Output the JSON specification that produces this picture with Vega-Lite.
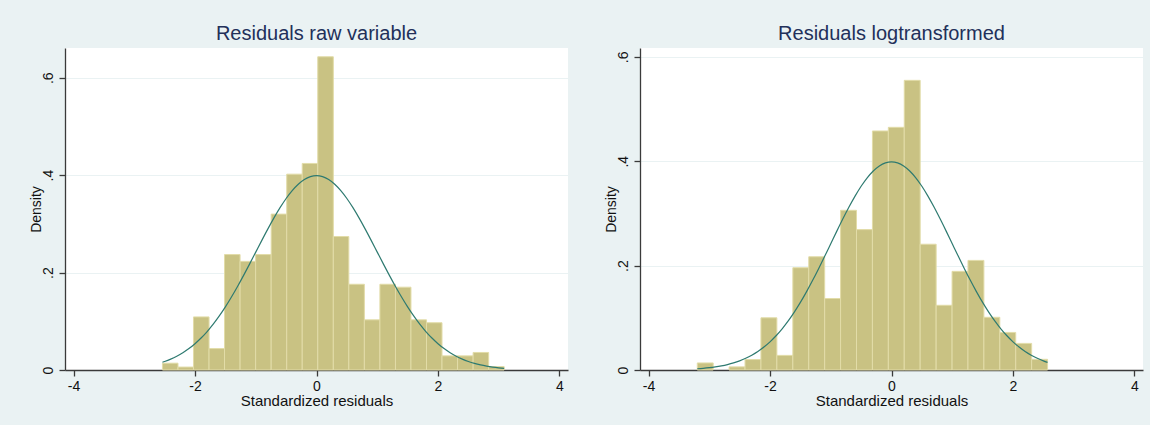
{
  "$schema": "https://vega.github.io/schema/vega-lite/v6.json",
  "background": "#EAF2F3",
  "padding": {"left": 28, "top": 24, "right": 7, "bottom": 22},
  "spacing": 36,
  "config": {
    "font": "Liberation Sans",
    "view": {"fill": "white", "stroke": null},
    "axis": {
      "domainColor": "#3a3a3a", "domainWidth": 1.3,
      "tickColor": "#3a3a3a", "tickWidth": 1.3, "tickSize": 6,
      "labelFont": "Liberation Sans", "labelFontSize": 14, "labelColor": "#111111",
      "titleFont": "Liberation Sans", "titleFontWeight": "normal", "titleColor": "#111111"
    },
    "title": {"font": "Liberation Sans", "fontSize": 20, "fontWeight": "normal", "color": "#22305a", "anchor": "middle", "frame": "group", "offset": 4}
  },
  "datasets": {
    "raw_bars": [
      {"start": -2.536, "end": -2.280, "density": 0.014},
      {"start": -2.280, "end": -2.025, "density": 0.006},
      {"start": -2.025, "end": -1.769, "density": 0.109},
      {"start": -1.769, "end": -1.514, "density": 0.044},
      {"start": -1.514, "end": -1.258, "density": 0.237},
      {"start": -1.258, "end": -1.002, "density": 0.223},
      {"start": -1.002, "end": -0.746, "density": 0.237},
      {"start": -0.746, "end": -0.490, "density": 0.320},
      {"start": -0.490, "end": -0.235, "density": 0.402},
      {"start": -0.235, "end": 0.021, "density": 0.424},
      {"start": 0.021, "end": 0.277, "density": 0.643},
      {"start": 0.277, "end": 0.532, "density": 0.274},
      {"start": 0.532, "end": 0.788, "density": 0.176},
      {"start": 0.788, "end": 1.044, "density": 0.103},
      {"start": 1.044, "end": 1.300, "density": 0.176},
      {"start": 1.300, "end": 1.555, "density": 0.170},
      {"start": 1.555, "end": 1.811, "density": 0.103},
      {"start": 1.811, "end": 2.066, "density": 0.097},
      {"start": 2.066, "end": 2.322, "density": 0.029},
      {"start": 2.322, "end": 2.578, "density": 0.029},
      {"start": 2.578, "end": 2.834, "density": 0.036},
      {"start": 2.834, "end": 3.089, "density": 0.007}
    ],
    "log_bars": [
      {"start": -3.197, "end": -2.935, "density": 0.0135},
      {"start": -2.673, "end": -2.411, "density": 0.006},
      {"start": -2.411, "end": -2.149, "density": 0.020},
      {"start": -2.149, "end": -1.887, "density": 0.100},
      {"start": -1.887, "end": -1.624, "density": 0.028},
      {"start": -1.624, "end": -1.362, "density": 0.196},
      {"start": -1.362, "end": -1.100, "density": 0.217},
      {"start": -1.100, "end": -0.838, "density": 0.137},
      {"start": -0.838, "end": -0.576, "density": 0.306},
      {"start": -0.576, "end": -0.314, "density": 0.269},
      {"start": -0.314, "end": -0.052, "density": 0.458},
      {"start": -0.052, "end": 0.210, "density": 0.465},
      {"start": 0.210, "end": 0.472, "density": 0.555},
      {"start": 0.472, "end": 0.735, "density": 0.241},
      {"start": 0.735, "end": 0.997, "density": 0.124},
      {"start": 0.997, "end": 1.259, "density": 0.189},
      {"start": 1.259, "end": 1.521, "density": 0.210},
      {"start": 1.521, "end": 1.783, "density": 0.101},
      {"start": 1.783, "end": 2.045, "density": 0.072},
      {"start": 2.045, "end": 2.307, "density": 0.051},
      {"start": 2.307, "end": 2.569, "density": 0.0205}
    ],
    "raw_curve": [
      {"x": -2.536, "density": 0.01601}, {"x": -2.5, "density": 0.01753}, {"x": -2.4, "density": 0.02239},
      {"x": -2.3, "density": 0.02833}, {"x": -2.2, "density": 0.03547}, {"x": -2.1, "density": 0.04398},
      {"x": -2.0, "density": 0.05399}, {"x": -1.9, "density": 0.06562}, {"x": -1.8, "density": 0.07895},
      {"x": -1.7, "density": 0.09405}, {"x": -1.6, "density": 0.11092}, {"x": -1.5, "density": 0.12952},
      {"x": -1.4, "density": 0.14973}, {"x": -1.3, "density": 0.17137}, {"x": -1.2, "density": 0.19419},
      {"x": -1.1, "density": 0.21785}, {"x": -1.0, "density": 0.24197}, {"x": -0.9, "density": 0.26609},
      {"x": -0.8, "density": 0.28969}, {"x": -0.7, "density": 0.31225}, {"x": -0.6, "density": 0.33322},
      {"x": -0.5, "density": 0.35207}, {"x": -0.4, "density": 0.36827}, {"x": -0.3, "density": 0.38139},
      {"x": -0.2, "density": 0.39104}, {"x": -0.1, "density": 0.39695}, {"x": 0.0, "density": 0.39894},
      {"x": 0.1, "density": 0.39695}, {"x": 0.2, "density": 0.39104}, {"x": 0.3, "density": 0.38139},
      {"x": 0.4, "density": 0.36827}, {"x": 0.5, "density": 0.35207}, {"x": 0.6, "density": 0.33322},
      {"x": 0.7, "density": 0.31225}, {"x": 0.8, "density": 0.28969}, {"x": 0.9, "density": 0.26609},
      {"x": 1.0, "density": 0.24197}, {"x": 1.1, "density": 0.21785}, {"x": 1.2, "density": 0.19419},
      {"x": 1.3, "density": 0.17137}, {"x": 1.4, "density": 0.14973}, {"x": 1.5, "density": 0.12952},
      {"x": 1.6, "density": 0.11092}, {"x": 1.7, "density": 0.09405}, {"x": 1.8, "density": 0.07895},
      {"x": 1.9, "density": 0.06562}, {"x": 2.0, "density": 0.05399}, {"x": 2.1, "density": 0.04398},
      {"x": 2.2, "density": 0.03547}, {"x": 2.3, "density": 0.02833}, {"x": 2.4, "density": 0.02239},
      {"x": 2.5, "density": 0.01753}, {"x": 2.6, "density": 0.01358}, {"x": 2.7, "density": 0.01042},
      {"x": 2.8, "density": 0.00792}, {"x": 2.9, "density": 0.00595}, {"x": 3.0, "density": 0.00443},
      {"x": 3.089, "density": 0.00338}
    ],
    "log_curve": [
      {"x": -3.197, "density": 0.00241}, {"x": -3.1, "density": 0.00327}, {"x": -3.0, "density": 0.00443},
      {"x": -2.9, "density": 0.00595}, {"x": -2.8, "density": 0.00792}, {"x": -2.7, "density": 0.01042},
      {"x": -2.6, "density": 0.01358}, {"x": -2.5, "density": 0.01753}, {"x": -2.4, "density": 0.02239},
      {"x": -2.3, "density": 0.02833}, {"x": -2.2, "density": 0.03547}, {"x": -2.1, "density": 0.04398},
      {"x": -2.0, "density": 0.05399}, {"x": -1.9, "density": 0.06562}, {"x": -1.8, "density": 0.07895},
      {"x": -1.7, "density": 0.09405}, {"x": -1.6, "density": 0.11092}, {"x": -1.5, "density": 0.12952},
      {"x": -1.4, "density": 0.14973}, {"x": -1.3, "density": 0.17137}, {"x": -1.2, "density": 0.19419},
      {"x": -1.1, "density": 0.21785}, {"x": -1.0, "density": 0.24197}, {"x": -0.9, "density": 0.26609},
      {"x": -0.8, "density": 0.28969}, {"x": -0.7, "density": 0.31225}, {"x": -0.6, "density": 0.33322},
      {"x": -0.5, "density": 0.35207}, {"x": -0.4, "density": 0.36827}, {"x": -0.3, "density": 0.38139},
      {"x": -0.2, "density": 0.39104}, {"x": -0.1, "density": 0.39695}, {"x": 0.0, "density": 0.39894},
      {"x": 0.1, "density": 0.39695}, {"x": 0.2, "density": 0.39104}, {"x": 0.3, "density": 0.38139},
      {"x": 0.4, "density": 0.36827}, {"x": 0.5, "density": 0.35207}, {"x": 0.6, "density": 0.33322},
      {"x": 0.7, "density": 0.31225}, {"x": 0.8, "density": 0.28969}, {"x": 0.9, "density": 0.26609},
      {"x": 1.0, "density": 0.24197}, {"x": 1.1, "density": 0.21785}, {"x": 1.2, "density": 0.19419},
      {"x": 1.3, "density": 0.17137}, {"x": 1.4, "density": 0.14973}, {"x": 1.5, "density": 0.12952},
      {"x": 1.6, "density": 0.11092}, {"x": 1.7, "density": 0.09405}, {"x": 1.8, "density": 0.07895},
      {"x": 1.9, "density": 0.06562}, {"x": 2.0, "density": 0.05399}, {"x": 2.1, "density": 0.04398},
      {"x": 2.2, "density": 0.03547}, {"x": 2.3, "density": 0.02833}, {"x": 2.4, "density": 0.02239},
      {"x": 2.5, "density": 0.01753}, {"x": 2.569, "density": 0.01471}
    ]
  },
  "hconcat": [
    {
      "title": "Residuals raw variable",
      "width": 503,
      "height": 322,
      "layer": [
        {
          "data": {"name": "raw_bars"},
          "mark": {"type": "rect", "fill": "#C9C283", "stroke": "#E2DCA8", "strokeWidth": 1},
          "encoding": {
            "x": {"field": "start", "type": "quantitative",
                  "scale": {"domain": [-4.14, 4.14], "nice": false, "zero": false},
                  "axis": {"values": [-4, -2, 0, 2, 4], "labelExpr": "'' + datum.value", "title": "Standardized residuals", "titleFontSize": 15, "grid": false, "labelPadding": 3, "titlePadding": 0, "labelFlush": false}},
            "x2": {"field": "end"},
            "y": {"field": "density", "type": "quantitative",
                  "scale": {"domain": [0, 0.661], "nice": false},
                  "axis": {"values": [0, 0.2, 0.4, 0.6], "labelExpr": "datum.value === 0 ? '0' : '.' + round(datum.value * 10)", "labelAngle": -90, "title": "Density", "titleFontSize": 14, "grid": true, "gridColor": "#EAF2F3", "gridWidth": 1, "labelPadding": 4, "titlePadding": -2}},
            "y2": {"datum": 0}
          }
        },
        {
          "data": {"name": "raw_curve"},
          "mark": {"type": "line", "color": "#2e7a70", "strokeWidth": 1.2, "interpolate": "monotone"},
          "encoding": {
            "x": {"field": "x", "type": "quantitative"},
            "y": {"field": "density", "type": "quantitative"}
          }
        }
      ]
    },
    {
      "title": "Residuals logtransformed",
      "width": 503,
      "height": 322,
      "layer": [
        {
          "data": {"name": "log_bars"},
          "mark": {"type": "rect", "fill": "#C9C283", "stroke": "#E2DCA8", "strokeWidth": 1},
          "encoding": {
            "x": {"field": "start", "type": "quantitative",
                  "scale": {"domain": [-4.14, 4.14], "nice": false, "zero": false},
                  "axis": {"values": [-4, -2, 0, 2, 4], "labelExpr": "'' + datum.value", "title": "Standardized residuals", "titleFontSize": 15, "grid": false, "labelPadding": 3, "titlePadding": 0, "labelFlush": false}},
            "x2": {"field": "end"},
            "y": {"field": "density", "type": "quantitative",
                  "scale": {"domain": [0, 0.617], "nice": false},
                  "axis": {"values": [0, 0.2, 0.4, 0.6], "labelExpr": "datum.value === 0 ? '0' : '.' + round(datum.value * 10)", "labelAngle": -90, "title": "Density", "titleFontSize": 14, "grid": true, "gridColor": "#EAF2F3", "gridWidth": 1, "labelPadding": 4, "titlePadding": -2}},
            "y2": {"datum": 0}
          }
        },
        {
          "data": {"name": "log_curve"},
          "mark": {"type": "line", "color": "#2e7a70", "strokeWidth": 1.2, "interpolate": "monotone"},
          "encoding": {
            "x": {"field": "x", "type": "quantitative"},
            "y": {"field": "density", "type": "quantitative"}
          }
        }
      ]
    }
  ]
}
